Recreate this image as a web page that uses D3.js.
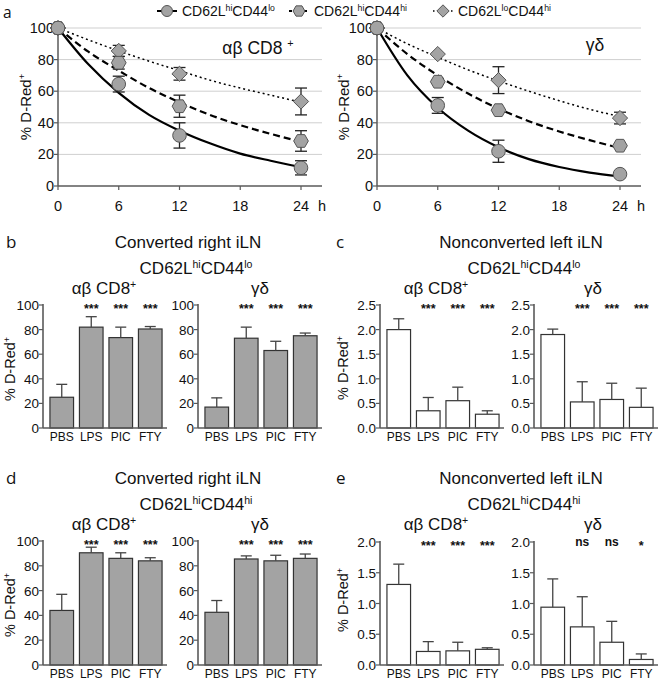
<!DOCTYPE html>
<html><head><meta charset="utf-8">
<script src="https://cdn.jsdelivr.net/npm/d3@7"></script>
<style>body{margin:0;background:#fff} svg{font-family:"Liberation Sans",Arial,sans-serif}</style>
</head><body><svg id="c" width="660" height="680"></svg>
<script>
// ---------- Panel a data (time course) ----------
const hours = [0, 6, 12, 24];
const fitHours = [0, 3, 6, 9, 12, 15, 18, 21, 24];
const timeTicks = [0, 6, 12, 18, 24];
const pctTicks = [0, 20, 40, 60, 80, 100];
// αβ CD8+
const abLoMean = [100, 64.5, 32, 11.5], abLoErr = [0, 5, 8, 4.5];
const abHiMean = [100, 78, 50.5, 28.5], abHiErr = [0, 4, 7, 6.5];
const abLLMean = [100, 85.5, 71, 53.5], abLLErr = [0, 3.5, 4, 8.5];
const abLoFit = [100, 77, 59, 45, 35, 27, 20.5, 16, 12];
const abHiFit = [100, 85, 73, 62, 53, 45, 38.5, 33, 28];
const abLLFit = [100, 92.5, 85.5, 79, 73, 67, 62, 57.5, 53];
// γδ
const gdLoMean = [100, 51, 22, 7.5], gdLoErr = [0, 5, 7, 0];
const gdHiMean = [100, 66, 48, 25.5], gdHiErr = [0, 1, 1, 0];
const gdLLMean = [100, 83.5, 67, 43], gdLLErr = [0, 0, 8.5, 3.7];
const gdLoFit = [100, 70, 49.5, 35, 24.5, 17, 12, 8.5, 6];
const gdHiFit = [100, 83.5, 70, 58.5, 49, 41, 34.5, 29, 24];
const gdLLFit = [100, 90, 81.5, 73.5, 66.5, 60, 54, 48.5, 44];

// ---------- Bar panels data ----------
const treatments = ["PBS", "LPS", "PIC", "FTY"];
const bAB = [25, 82, 73.5, 80.5], bABErr = [10.5, 8.5, 8.5, 2];
const bGD = [17, 73, 63, 75], bGDErr = [7.5, 9, 7.5, 2.2];
const cAB = [2.0, 0.35, 0.555, 0.28], cABErr = [0.22, 0.27, 0.275, 0.07];
const cGD = [1.9, 0.53, 0.58, 0.42], cGDErr = [0.11, 0.41, 0.33, 0.39];
const dAB = [44, 90.5, 86, 84], dABErr = [13, 4.5, 4.5, 2.5];
const dGD = [42.5, 85.5, 84, 86], dGDErr = [9.5, 2.5, 4.5, 3.5];
const eAB = [1.31, 0.22, 0.23, 0.255], eABErr = [0.33, 0.16, 0.14, 0.025];
const eGD = [0.94, 0.62, 0.37, 0.09], eGDErr = [0.46, 0.49, 0.34, 0.09];
const sigAll = ["", "***", "***", "***"];
const sigE = ["", "ns", "ns", "*"];
const pctBarTicks = [0, 20, 40, 60, 80, 100];
const cTicks = [0, 0.5, 1.0, 1.5, 2.0, 2.5];
const eTicks = [0, 0.5, 1.0, 1.5, 2.0];

const svg = d3.select("#c");
const AX = "#5a5a5a", DARK = "#333", GRAY = "#a3a3a3";

function rich(sel, parts, size) {
  let prevSup = false;
  parts.forEach(([t, sup]) => {
    const ts = sel.append("tspan").text(t);
    if (sup) { ts.attr("font-size", size * 0.62).attr("dy", -size * 0.38); }
    else if (prevSup) { ts.attr("dy", size * 0.38); }
    prevSup = sup;
  });
  return sel;
}
function label(x, y, parts, size, anchor = "middle") {
  const t = svg.append("text").attr("x", x).attr("y", y).attr("font-size", size)
    .attr("text-anchor", anchor).attr("fill", "#111");
  return rich(t, parts, size);
}
function yLabel(cx, cy, size) {
  const t = svg.append("text").attr("transform", `translate(${cx},${cy}) rotate(-90)`)
    .attr("font-size", size).attr("text-anchor", "middle").attr("fill", "#111");
  rich(t, [["% D-Red", 0], ["+", 1]], size);
}
function polyPath(n, r, rot) {
  const pts = d3.range(n).map(i => [r * Math.cos(rot + i * 2 * Math.PI / n), r * Math.sin(rot + i * 2 * Math.PI / n)]);
  return d3.line()(pts) + "Z";
}
const markers = {
  circle: r => d3.symbol(d3.symbolCircle, Math.PI * r * r)(),
  hex: r => polyPath(6, r * 1.08, 0),
  diamond: r => polyPath(4, r * 1.12, -Math.PI / 2)
};

// ---------- Panel a ----------
function timePanel(axisX, axisEndX, x24, series, title, titleX, titleY) {
  const x = d3.scaleLinear().domain([0, 24]).range([axisX, x24]);
  const y = d3.scaleLinear().domain([0, 100]).range([186, 28]);
  const g = svg.append("g");
  g.selectAll(".grid").data(pctTicks.filter(v => v > 0)).join("line")
    .attr("x1", axisX).attr("x2", axisEndX).attr("y1", d => y(d)).attr("y2", d => y(d))
    .attr("stroke", "#cfcfcf").attr("stroke-width", 1);
  g.append("line").attr("x1", axisX).attr("x2", axisX).attr("y1", y(0)).attr("y2", y(100) - 1).attr("stroke", AX).attr("stroke-width", 1.5);
  g.append("line").attr("x1", axisX).attr("x2", axisEndX).attr("y1", y(0)).attr("y2", y(0)).attr("stroke", AX).attr("stroke-width", 1.5);
  g.selectAll(".yt").data(pctTicks).join("line").attr("x1", axisX - 4).attr("x2", axisX)
    .attr("y1", d => y(d)).attr("y2", d => y(d)).attr("stroke", AX).attr("stroke-width", 1.2);
  g.selectAll(".yl").data(pctTicks).join("text").attr("x", axisX - 4).attr("y", d => y(d) + 5)
    .attr("text-anchor", "end").attr("font-size", 14.5).attr("fill", "#111").text(d => d);
  g.selectAll(".xt").data(timeTicks).join("line").attr("x1", d => x(d)).attr("x2", d => x(d))
    .attr("y1", y(0)).attr("y2", y(0) + 4).attr("stroke", AX).attr("stroke-width", 1.2);
  g.selectAll(".xl").data(timeTicks).join("text").attr("x", d => x(d)).attr("y", 211)
    .attr("text-anchor", "middle").attr("font-size", 14.5).attr("fill", "#111").text(d => d);
  g.append("text").attr("x", axisEndX).attr("y", 211).attr("text-anchor", "middle").attr("font-size", 14.5).attr("fill", "#111").text("h");
  const line = d3.line().x((d, i) => x(fitHours[i])).y(d => y(d)).curve(d3.curveMonotoneX);
  series.forEach(s => {
    g.append("path").attr("d", line(s.fit)).attr("fill", "none").attr("stroke", "#000")
      .attr("stroke-width", s.w).attr("stroke-dasharray", s.dash);
  });
  series.forEach(s => {
    s.mean.forEach((m, i) => {
      const e = s.err[i]; if (!e) return;
      const cx = x(hours[i]);
      g.append("line").attr("x1", cx).attr("x2", cx).attr("y1", y(m - e)).attr("y2", y(m + e)).attr("stroke", "#222").attr("stroke-width", 1.3);
      [m - e, m + e].forEach(v => g.append("line").attr("x1", cx - 6).attr("x2", cx + 6).attr("y1", y(v)).attr("y2", y(v)).attr("stroke", "#222").attr("stroke-width", 1.3));
    });
  });
  series.forEach(s => {
    g.selectAll(null).data(s.mean).join("path").attr("d", markers[s.shape](6.8))
      .attr("transform", (d, i) => `translate(${x(hours[i])},${y(d)})`)
      .attr("fill", GRAY).attr("stroke", "#555").attr("stroke-width", 1);
  });
  label(titleX, titleY, title, 17.5);
}
const dashes = { lo: null, hi: "7,4", ll: "2,3" };
timePanel(58, 322, 301, [
  { mean: abLLMean, err: abLLErr, fit: abLLFit, shape: "diamond", dash: dashes.ll, w: 1.5 },
  { mean: abHiMean, err: abHiErr, fit: abHiFit, shape: "hex", dash: dashes.hi, w: 2.2 },
  { mean: abLoMean, err: abLoErr, fit: abLoFit, shape: "circle", dash: dashes.lo, w: 2.2 }
], [["αβ CD8 ", 0], ["+", 1]], 258, 54);
timePanel(377, 641, 620, [
  { mean: gdLLMean, err: gdLLErr, fit: gdLLFit, shape: "diamond", dash: dashes.ll, w: 1.5 },
  { mean: gdHiMean, err: gdHiErr, fit: gdHiFit, shape: "hex", dash: dashes.hi, w: 2.2 },
  { mean: gdLoMean, err: gdLoErr, fit: gdLoFit, shape: "circle", dash: dashes.lo, w: 2.2 }
], [["γδ", 0]], 595, 51);
yLabel(31, 107, 15);
yLabel(349, 107, 15);

// legend
const legendItems = [
  { x: 167, shape: "circle", dash: null, w: 2, parts: [["CD62L", 0], ["hi", 1], ["CD44", 0], ["lo", 1]] },
  { x: 299, shape: "hex", dash: "3,2", w: 2, parts: [["CD62L", 0], ["hi", 1], ["CD44", 0], ["hi", 1]] },
  { x: 443, shape: "diamond", dash: "1.5,3", w: 1.5, parts: [["CD62L", 0], ["lo", 1], ["CD44", 0], ["hi", 1]] }
];
legendItems.forEach(it => {
  svg.append("line").attr("x1", it.x - 10).attr("x2", it.x + 10).attr("y1", 11).attr("y2", 11)
    .attr("stroke", "#000").attr("stroke-width", it.w).attr("stroke-dasharray", it.dash);
  svg.append("path").attr("d", markers[it.shape](5.5)).attr("transform", `translate(${it.x},11)`)
    .attr("fill", GRAY).attr("stroke", "#555");
  label(it.x + 15, 16, it.parts, 14, "start");
});
svg.append("text").attr("x", 3).attr("y", 18).attr("font-size", 15.5).attr("font-family", "Open Sans").attr("fill", "#111").text("a");

// ---------- Bar panels ----------
function barPanel(axisX, yTop, y0, maxV, ticks, fmt, vals, errs, fill, sigs) {
  const y = d3.scaleLinear().domain([0, maxV]).range([y0, yTop]);
  const x = d3.scaleBand().domain(treatments).range([axisX + 4, axisX + 122]).paddingInner(0.2).paddingOuter(0.1);
  const g = svg.append("g");
  g.selectAll(".bar").data(vals).join("rect")
    .attr("x", (d, i) => x(treatments[i])).attr("width", x.bandwidth())
    .attr("y", d => y(d)).attr("height", d => y0 - y(d))
    .attr("fill", fill).attr("stroke", DARK).attr("stroke-width", 1.2);
  vals.forEach((v, i) => {
    const cx = x(treatments[i]) + x.bandwidth() / 2;
    g.append("line").attr("x1", cx).attr("x2", cx).attr("y1", y(v)).attr("y2", y(v + errs[i])).attr("stroke", "#444").attr("stroke-width", 1.3);
    g.append("line").attr("x1", cx - 5.5).attr("x2", cx + 5.5).attr("y1", y(v + errs[i])).attr("y2", y(v + errs[i])).attr("stroke", "#444").attr("stroke-width", 1.3);
    if (sigs[i]) {
      const isStar = sigs[i].indexOf("*") >= 0;
      g.append("text").attr("x", cx).attr("y", y(maxV) + (isStar ? 7.5 : 3.5))
        .attr("text-anchor", "middle").attr("font-size", isStar ? 12.5 : 12).attr("font-weight", "bold")
        .attr("fill", "#111").text(sigs[i]);
    }
  });
  g.append("line").attr("x1", axisX).attr("x2", axisX).attr("y1", y0).attr("y2", yTop - 1).attr("stroke", AX).attr("stroke-width", 1.6);
  g.append("line").attr("x1", axisX).attr("x2", axisX + 124).attr("y1", y0).attr("y2", y0).attr("stroke", AX).attr("stroke-width", 1.6);
  g.selectAll(".yt").data(ticks).join("line").attr("x1", axisX - 4).attr("x2", axisX)
    .attr("y1", d => y(d)).attr("y2", d => y(d)).attr("stroke", AX).attr("stroke-width", 1.2);
  g.selectAll(".yl").data(ticks).join("text").attr("x", axisX - 4).attr("y", d => y(d) + 5)
    .attr("text-anchor", "end").attr("font-size", 13.5).attr("fill", "#111").text(d => d3.format(fmt)(d));
  g.selectAll(".xl").data(treatments).join("text").attr("x", d => x(d) + x.bandwidth() / 2).attr("y", y0 + 13)
    .attr("text-anchor", "middle").attr("font-size", 12).attr("fill", "#111").text(d => d);
}

function panelTitles(letter, lx, base, t1, t1x, t2parts, t2x, abx, gdx) {
  svg.append("text").attr("x", lx).attr("y", base).attr("font-size", 17).attr("font-family", "Open Sans").attr("fill", "#111").text(letter);
  label(t1x, base, [[t1, 0]], 17);
  label(t2x, base + 26, t2parts, 17);
  label(abx, base + 46, [["αβ CD8", 0], ["+", 1]], 17);
  label(gdx, base + 46, [["γδ", 0]], 17);
}
const loParts = [["CD62L", 0], ["hi", 1], ["CD44", 0], ["lo", 1]];
const hiParts = [["CD62L", 0], ["hi", 1], ["CD44", 0], ["hi", 1]];
panelTitles("b", 6, 248, "Converted right iLN", 188, loParts, 196, 104, 260);
panelTitles("c", 336, 248, "Nonconverted left iLN", 521, loParts, 524, 436, 593);
panelTitles("d", 6, 484, "Converted right iLN", 188, hiParts, 196, 104, 260);
panelTitles("e", 336, 484, "Nonconverted left iLN", 521, hiParts, 524, 436, 593);

barPanel(43, 305, 428, 100, pctBarTicks, "d", bAB, bABErr, GRAY, sigAll);
barPanel(198, 305, 428, 100, pctBarTicks, "d", bGD, bGDErr, GRAY, sigAll);
barPanel(380, 305, 428, 2.5, cTicks, ".1f", cAB, cABErr, "#fff", sigAll);
barPanel(534, 305, 428, 2.5, cTicks, ".1f", cGD, cGDErr, "#fff", sigAll);
barPanel(43, 541, 665, 100, pctBarTicks, "d", dAB, dABErr, GRAY, sigAll);
barPanel(198, 541, 665, 100, pctBarTicks, "d", dGD, dGDErr, GRAY, sigAll);
barPanel(380, 542, 665, 2.0, eTicks, ".1f", eAB, eABErr, "#fff", sigAll);
barPanel(534, 542, 665, 2.0, eTicks, ".1f", eGD, eGDErr, "#fff", sigE);

yLabel(15, 369, 14.5);
yLabel(348, 368, 14.5);
yLabel(15, 605, 14.5);
yLabel(348, 600, 14.5);
</script></body></html>
